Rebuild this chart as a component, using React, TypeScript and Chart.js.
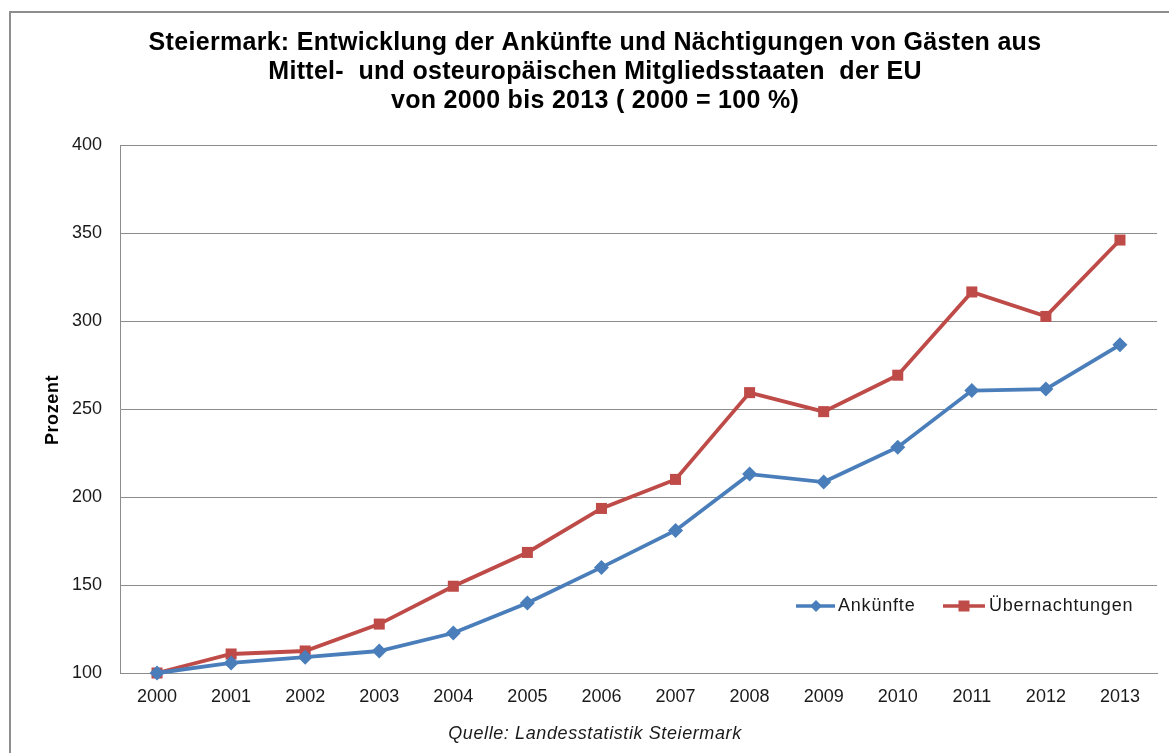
import React, { useEffect, useRef } from "react";
import { Chart, registerables } from "chart.js";

Chart.register(...registerables);

const years = ["2000", "2001", "2002", "2003", "2004", "2005", "2006", "2007", "2008", "2009", "2010", "2011", "2012", "2013"];
const ankuenfte = [100, 105.7, 109, 112.5, 122.7, 139.8, 160, 181, 213, 208.5, 228.3, 260.5, 261.3, 286.5];
const uebernachtungen = [100, 110.8, 112.5, 127.8, 149.3, 168.5, 193.5, 210, 259.3, 248.5, 269.2, 316.5, 302.6, 346];
const titleLines = [
  "Steiermark: Entwicklung der Ankünfte und Nächtigungen von Gästen aus",
  "Mittel-  und osteuropäischen Mitgliedsstaaten  der EU",
  "von 2000 bis 2013 ( 2000 = 100 %)",
];
const yTitle = "Prozent";
const sourceText = "Quelle: Landesstatistik Steiermark";
const seriesNames = ["Ankünfte", "Übernachtungen"];

const BLUE = "#4A7EBB";
const RED = "#BE4B48";
const GRID = "#8C8C8C";
const FONT = "'Liberation Sans', Arial, sans-serif";

function diamond(ctx: CanvasRenderingContext2D, x: number, y: number, r: number) {
  ctx.beginPath();
  ctx.moveTo(x, y - r);
  ctx.lineTo(x + r, y);
  ctx.lineTo(x, y + r);
  ctx.lineTo(x - r, y);
  ctx.closePath();
  ctx.fill();
}

function spaced(ctx: CanvasRenderingContext2D, v: string) {
  (ctx as any).letterSpacing = v;
}

const decor = {
  id: "decor",
  beforeDraw(chart: any) {
    const ctx = chart.ctx as CanvasRenderingContext2D;
    ctx.save();
    ctx.fillStyle = "#ffffff";
    ctx.fillRect(0, 0, chart.width, chart.height);
    ctx.strokeStyle = "#8E8E8E";
    ctx.lineWidth = 2;
    ctx.strokeRect(10, 12, chart.width + 20, chart.height + 20);
    ctx.restore();
  },
  afterDraw(chart: any) {
    const ctx = chart.ctx as CanvasRenderingContext2D;
    ctx.save();
    ctx.fillStyle = "#000000";
    ctx.textAlign = "center";
    ctx.textBaseline = "alphabetic";
    ctx.font = `bold 25px ${FONT}`;
    spaced(ctx, "0.3px");
    const baselines = [50, 79, 108];
    titleLines.forEach((t, i) => ctx.fillText(t, 595, baselines[i]));

    ctx.save();
    ctx.translate(53, 410);
    ctx.rotate(-Math.PI / 2);
    ctx.font = `bold 18px ${FONT}`;
    spaced(ctx, "0.6px");
    ctx.textBaseline = "middle";
    ctx.fillText(yTitle, 0, 0);
    ctx.restore();

    ctx.font = `italic 18px ${FONT}`;
    spaced(ctx, "0.6px");
    ctx.textBaseline = "middle";
    ctx.fillStyle = "#1a1a1a";
    ctx.fillText(sourceText, 595, 734);

    // legend
    const ly = 606;
    ctx.lineWidth = 3.5;
    ctx.strokeStyle = BLUE;
    ctx.beginPath();
    ctx.moveTo(796, ly);
    ctx.lineTo(835, ly);
    ctx.stroke();
    ctx.fillStyle = BLUE;
    diamond(ctx, 816, ly, 6);
    ctx.strokeStyle = RED;
    ctx.beginPath();
    ctx.moveTo(943, ly);
    ctx.lineTo(985, ly);
    ctx.stroke();
    ctx.fillStyle = RED;
    ctx.fillRect(964 - 5.5, ly - 5.5, 11, 11);
    ctx.fillStyle = "#1a1a1a";
    ctx.textAlign = "left";
    ctx.font = `18px ${FONT}`;
    spaced(ctx, "0.8px");
    ctx.fillText(seriesNames[0], 838, ly);
    ctx.fillText(seriesNames[1], 989, ly);
    ctx.restore();
  },
};

export default function App() {
  const ref = useRef<HTMLCanvasElement>(null);
  useEffect(() => {
    if (!ref.current) return;
    const chart = new Chart(ref.current, {
      type: "line",
      data: {
        labels: years,
        datasets: [
          {
            label: seriesNames[0],
            data: ankuenfte,
            borderColor: BLUE,
            backgroundColor: BLUE,
            borderWidth: 3.8,
            pointStyle: "rectRot",
            pointRadius: 7.5,
            pointBorderWidth: 0,
            pointBackgroundColor: BLUE,
            tension: 0,
            clip: false as any,
          },
          {
            label: seriesNames[1],
            data: uebernachtungen,
            borderColor: RED,
            backgroundColor: RED,
            borderWidth: 3.8,
            pointStyle: "rect",
            pointRadius: 7.8,
            pointBorderWidth: 0,
            pointBackgroundColor: RED,
            tension: 0,
            clip: false as any,
          },
        ],
      },
      options: {
        responsive: false,
        animation: false,
        devicePixelRatio: 1,
        layout: { padding: { top: 145, right: 12, left: 0, bottom: 0 } },
        plugins: {
          legend: { display: false },
          title: { display: false },
          tooltip: { enabled: false },
        },
        scales: {
          x: {
            offset: true,
            grid: { display: false, drawTicks: false },
            border: { display: true, color: GRID, width: 1 },
            ticks: { color: "#1a1a1a", font: { family: FONT, size: 18 }, padding: 13, maxRotation: 0, autoSkip: false },
            afterFit: (s: any) => { s.height = 80; },
          },
          y: {
            min: 100,
            max: 400,
            ticks: { stepSize: 50, color: "#1a1a1a", font: { family: FONT, size: 18 }, padding: 18 },
            grid: { color: GRID, lineWidth: 1, drawTicks: false },
            border: { display: true, color: GRID, width: 1 },
            afterFit: (s: any) => { s.width = 120; },
          },
        },
      },
      plugins: [decor],
    });
    return () => chart.destroy();
  }, []);
  return (
    <div style={{ position: "fixed", left: 0, top: 0, width: 1169, height: 753, background: "#fff" }}>
      <canvas ref={ref} width={1169} height={753} style={{ display: "block" }} />
    </div>
  );
}
